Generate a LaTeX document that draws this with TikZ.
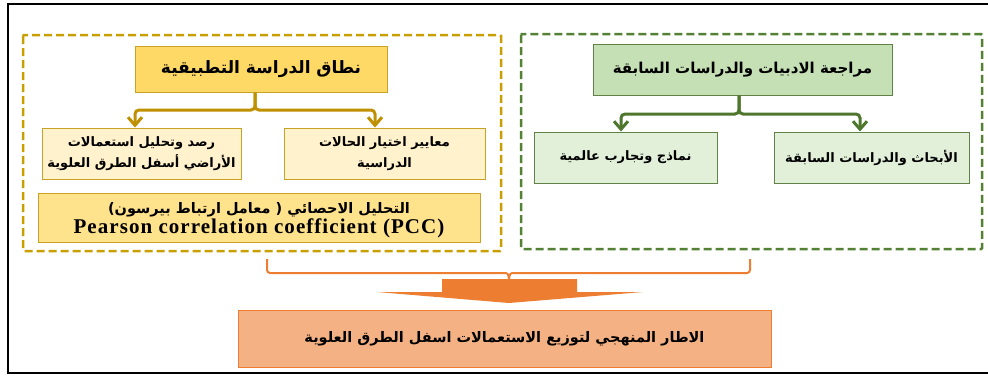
\documentclass[tikz,border=0pt]{standalone}
\usepackage{fontspec}
\usetikzlibrary{arrows.meta,calc}
\TeXXeTstate=1
\newfontfamily\arf[Script=Arabic]{DejaVu Sans}
\newfontfamily\latf[LetterSpace=5]{Liberation Serif}
\definecolor{golddash}{RGB}{201,158,0}
\definecolor{goldline}{RGB}{191,144,0}
\definecolor{goldfill}{RGB}{255,217,102}
\definecolor{goldborder}{RGB}{201,162,39}
\definecolor{goldlight}{RGB}{255,242,204}
\definecolor{pccfill}{RGB}{255,226,140}
\definecolor{greendash}{RGB}{84,130,53}
\definecolor{greenline}{RGB}{78,118,44}
\definecolor{greenfill}{RGB}{197,224,180}
\definecolor{greenlight}{RGB}{226,240,217}
\definecolor{greenborder}{RGB}{96,130,70}
\definecolor{orangec}{RGB}{237,125,49}
\definecolor{orangefill}{RGB}{244,177,131}
\tikzset{
  box/.style={rectangle, inner sep=0pt, align=center, line width=1pt},
  goldtitle/.style={box, fill=goldfill, draw=goldborder},
  goldsub/.style={box, fill=goldlight, draw=goldborder},
  pccbox/.style={box, fill=pccfill, draw=goldborder},
  greentitle/.style={box, fill=greenfill, draw=greenborder},
  greensub/.style={box, fill=greenlight, draw=greenborder},
  orangebox/.style={box, fill=orangefill, draw=orangec},
  dashframe/.style={line width=2.5pt, dash pattern=on 8pt off 4pt, rounded corners=1pt},
  garr/.style={draw=goldline, line width=3pt, rounded corners=4pt, -{Straight Barb[length=8pt,width=14pt]}},
  grarr/.style={draw=greenline, line width=3pt, rounded corners=4pt, -{Straight Barb[length=8pt,width=14pt]}},
  artitle/.style={font=\arf\bfseries\fontsize{17}{20}\selectfont},
  arsub/.style={font=\arf\bfseries\fontsize{13}{21}\selectfont},
}
\begin{document}
\begin{tikzpicture}[x=1pt,y=-1pt]
\useasboundingbox (0,0) rectangle (988,376);
% outer frame
\draw[black, line width=1.5pt] (988,4) -- (8,4) -- (8,373) -- (988,373);
% dashed frames
\draw[dashframe, draw=golddash] (23,35) rectangle (501,251);
\draw[dashframe, draw=greendash] (521,34) rectangle (982,249);
% gold group
\node[goldtitle, minimum width=252pt, minimum height=46pt, artitle] (gt) at (261,69) {\beginR نطاق الدراسة التطبيقية\endR};
\node[goldsub, minimum width=199pt, minimum height=51pt, arsub] (gl) at (141.5,153.5) {\beginR رصد وتحليل استعمالات\endR\\\beginR الأراضي أسفل الطرق العلوية\endR};
\node[goldsub, minimum width=201pt, minimum height=51pt, arsub] (gr) at (384.5,153.5) {\beginR معايير اختيار الحالات\endR\\\beginR الدراسية\endR};
\node[pccbox, minimum width=442pt, minimum height=49pt] (pcc) at (259,217.5) {\rule{0pt}{17pt}{\arf\bfseries\fontsize{14.5}{16}\selectfont\beginR التحليل الاحصائي ( معامل ارتباط بيرسون)\endR}\\[1pt]{\latf\bfseries\fontsize{21}{22}\selectfont Pearson correlation coefficient (PCC)}};
\coordinate (gj) at (255,110);
\draw[garr] (gt.south -| gj) -- (gj) -| ([xshift=-6.5pt]gl.north);
\draw[garr] (gt.south -| gj) -- (gj) -| ([xshift=-9.5pt]gr.north);
% green group
\node[greentitle, minimum width=299pt, minimum height=51pt, font=\arf\bfseries\fontsize{15}{18}\selectfont] (grt) at (742.5,69.5) {\beginR مراجعة الادبيات والدراسات السابقة\endR};
\node[greensub, minimum width=183pt, minimum height=51pt, arsub] (grl) at (625.5,157.5) {\beginR نماذج وتجارب عالمية\endR};
\node[greensub, minimum width=195pt, minimum height=51pt, arsub] (grr) at (871.5,157.5) {\beginR الأبحاث والدراسات السابقة\endR};
\coordinate (rj) at (739,114);
\draw[grarr] (grt.south -| rj) -- (rj) -| ([xshift=-4.5pt]grl.north);
\draw[grarr] (grt.south -| rj) -- (rj) -| ([xshift=-11.5pt]grr.north);
% orange
\node[orangebox, minimum width=533pt, minimum height=57pt, font=\arf\bfseries\fontsize{14.5}{17}\selectfont] (ob) at (504.5,338.5) {\beginR الاطار المنهجي لتوزيع الاستعمالات اسفل الطرق العلوية\endR};
\coordinate (bl) at (267,259);
\coordinate (br) at (750,259);
\coordinate (bm) at (509,279);
\coordinate (tip) at (509,303);
\draw[orangec, line width=2pt, rounded corners=3pt] (bl) -- (267,273) -- (503,273);
\draw[orangec, line width=2pt] (503,273) .. controls (508,273) .. (bm) .. controls (510,273) .. (515,273);
\draw[orangec, line width=2pt, rounded corners=3pt] (515,273) -- (750,273) -- (br);
\fill[orangec] (442,279) -- (577,279) -- (577,292) -- (643,292) -- (tip) -- (377,292) -- (442,292) -- cycle;
\end{tikzpicture}
\end{document}
